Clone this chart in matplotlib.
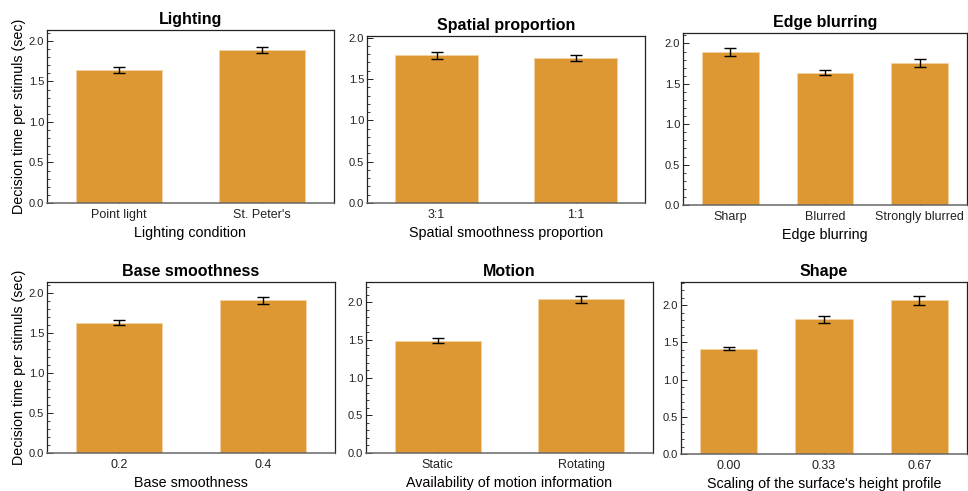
import matplotlib.pyplot as plt
from matplotlib.ticker import MultipleLocator

plt.rcParams['font.family'] = ['Liberation Sans', 'DejaVu Sans']

# mean decision times and standard errors per manipulation
lighting_labels = ["Point light", "St. Peter's"]
lighting_mean = [1.64, 1.89]
lighting_err = [0.035, 0.04]

spatial_labels = ["3:1", "1:1"]
spatial_mean = [1.785, 1.75]
spatial_err = [0.04, 0.035]

edge_labels = ["Sharp", "Blurred", "Strongly blurred"]
edge_mean = [1.89, 1.64, 1.76]
edge_err = [0.05, 0.035, 0.045]

base_labels = ["0.2", "0.4"]
base_mean = [1.63, 1.91]
base_err = [0.03, 0.04]

motion_labels = ["Static", "Rotating"]
motion_mean = [1.49, 2.04]
motion_err = [0.03, 0.045]

shape_labels = ["0.00", "0.33", "0.67"]
shape_mean = [1.415, 1.81, 2.065]
shape_err = [0.02, 0.045, 0.06]

BAR_COLOR = '#dd9834'
W, H = 968, 491


def px_axes(fig, left, right, top, bottom):
    """Crea un eje a partir de coordenadas en píxeles."""
    return fig.add_axes([left / W, 1 - bottom / H, (right - left) / W, (bottom - top) / H])


def panel(ax, labels, means, errs, title, xlabel, ymax, ylabel=None):
    x = list(range(len(labels)))
    ax.bar(x, means, width=0.6, color=BAR_COLOR, edgecolor='#f3d3a3', linewidth=0.6, zorder=2)
    ax.errorbar(x, means, yerr=errs, fmt='none', ecolor='black', elinewidth=1.0,
                capsize=4.5, capthick=1.0, zorder=3)
    ax.set_xlim(-0.5, len(labels) - 0.5)
    ax.set_ylim(0, ymax)
    ax.set_xticks(x)
    ax.set_xticklabels(labels)
    ax.yaxis.set_major_locator(MultipleLocator(0.5))
    ax.yaxis.set_minor_locator(MultipleLocator(0.1))
    ax.yaxis.set_major_formatter(plt.FuncFormatter(lambda v, p: f"{v:.1f}"))
    ax.tick_params(axis='y', which='major', direction='in', length=4, width=0.7,
                   labelsize=8, pad=2, colors='#222222')
    ax.tick_params(axis='y', which='minor', direction='in', length=2, width=0.6, colors='#222222')
    ax.tick_params(axis='x', direction='in', length=3, width=0.7, labelsize=9, pad=4,
                   colors='#222222')
    ax.tick_params(labelcolor='#222222')
    for side in ['top', 'left', 'right']:
        ax.spines[side].set_color('#222222')
        ax.spines[side].set_linewidth(0.9)
    ax.spines['bottom'].set_color('#666666')
    ax.spines['bottom'].set_linewidth(1.1)
    ax.set_title(title, fontsize=11.5, fontweight='bold', pad=4)
    ax.set_xlabel(xlabel, fontsize=10.3, labelpad=4)
    if ylabel:
        ax.set_ylabel(ylabel, fontsize=10.3, labelpad=2)


fig = plt.figure(figsize=(W / 100, H / 100), dpi=100)
ylab = "Decision time per stimuls (sec)"

ax1 = px_axes(fig, 47, 334, 30, 203)
panel(ax1, lighting_labels, lighting_mean, lighting_err, "Lighting",
      "Lighting condition", 2.135, ylab)

ax2 = px_axes(fig, 367, 645, 36, 203)
panel(ax2, spatial_labels, spatial_mean, spatial_err, "Spatial proportion",
      "Spatial smoothness proportion", 2.02)

ax3 = px_axes(fig, 683, 967, 33, 205)
panel(ax3, edge_labels, edge_mean, edge_err, "Edge blurring",
      "Edge blurring", 2.13)

ax4 = px_axes(fig, 47, 335, 282, 453)
panel(ax4, base_labels, base_mean, base_err, "Base smoothness",
      "Base smoothness", 2.14, ylab)

ax5 = px_axes(fig, 366, 653, 282, 453)
panel(ax5, motion_labels, motion_mean, motion_err, "Motion",
      "Availability of motion information", 2.27)

ax6 = px_axes(fig, 681, 967, 282, 454)
panel(ax6, shape_labels, shape_mean, shape_err, "Shape",
      "Scaling of the surface's height profile", 2.31)

fig.savefig('out.png', dpi=100)
